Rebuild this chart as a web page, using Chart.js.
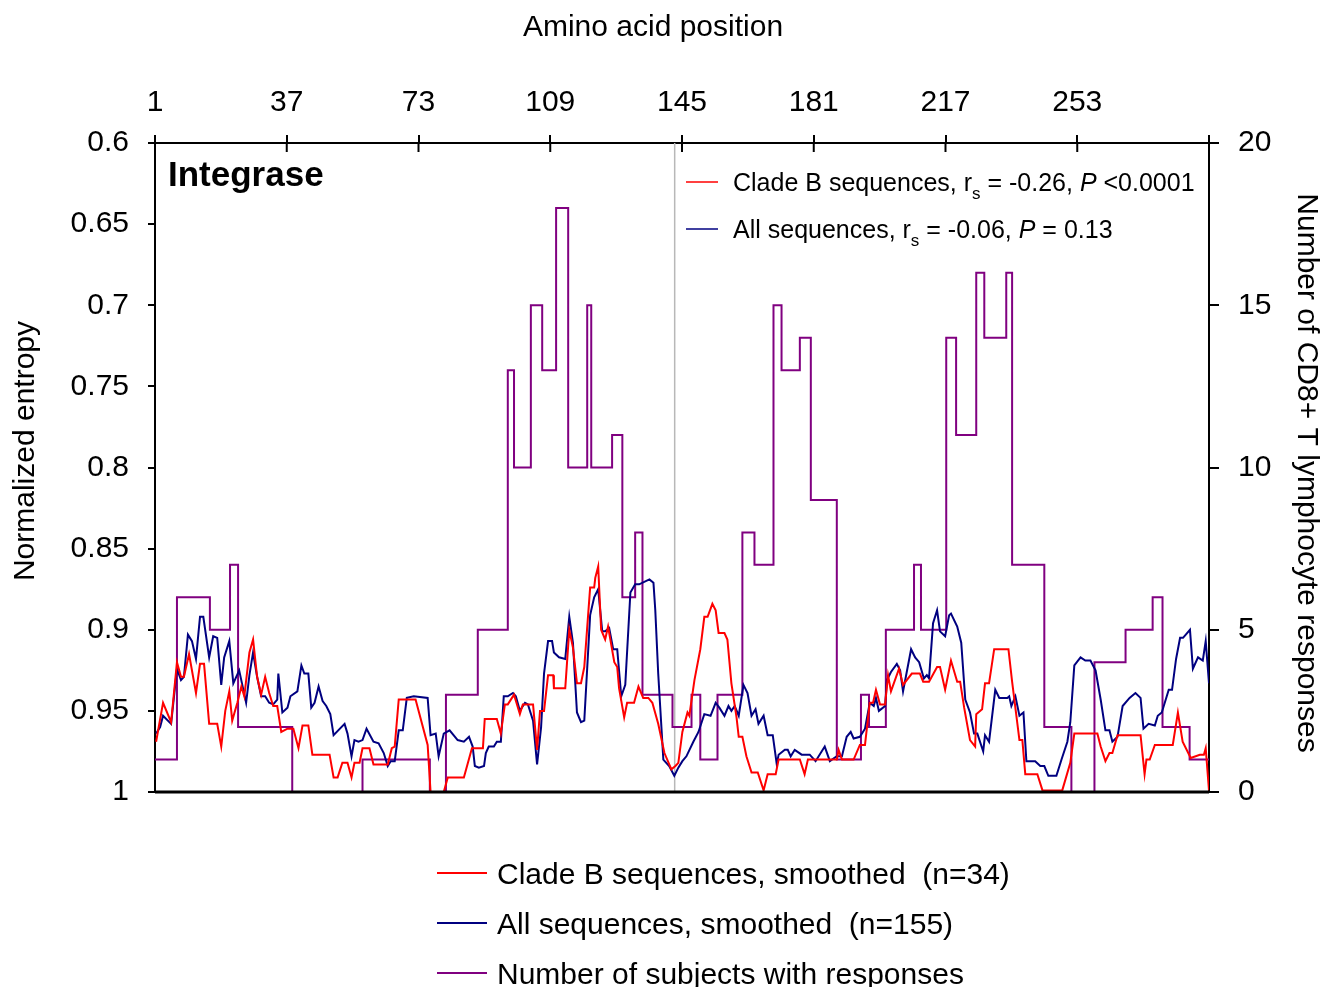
<!DOCTYPE html>
<html>
<head>
<meta charset="utf-8">
<title>Integrase – entropy and CD8+ T lymphocyte responses</title>
<script src="https://cdn.jsdelivr.net/npm/chart.js@4/dist/chart.umd.min.js"></script>
<style>
  html, body { margin: 0; padding: 0; background: #fff; }
  canvas { display: block; }
</style>
</head>
<body>
<canvas id="entropyChart" width="1320" height="987"></canvas>
<script>
const FONT = '"Liberation Sans", Arial, sans-serif';

// axis ticks
const positionTicks = [1, 37, 73, 109, 145, 181, 217, 253, 289];
const entropyTicks = [0.6, 0.65, 0.7, 0.75, 0.8, 0.85, 0.9, 0.95, 1];
const responseTicks = [0, 5, 10, 15, 20];
const dividerPosition = 143;

// smoothed normalized entropy, [amino acid position, entropy]
const cladeBSmoothed = [
  [1.3, .969], [3.2, .945], [5.4, .957], [7.0, .920], [8.1, .929], [8.9, .929], [10.3, .915], [12.2, .939],
  [13.3, .921], [14.4, .921], [15.8, .958], [18.0, .958], [19.1, .972], [20.2, .950], [21.3, .938], [22.1, .956],
  [23.5, .945], [24.6, .935], [25.4, .941], [26.8, .914], [27.8, .906], [28.9, .929], [30.0, .940], [31.1, .929],
  [32.2, .939], [33.3, .947], [34.4, .947], [35.5, .963], [37.2, .961], [38.8, .961], [40.2, .973], [41.3, .959],
  [42.9, .959], [44.0, .977], [48.7, .977], [49.8, .991], [50.9, .991], [52.2, .982], [53.6, .982], [54.7, .991],
  [55.5, .982], [56.9, .982], [57.7, .973], [59.6, .973], [60.7, .983], [64.6, .983], [65.7, .973], [66.5, .972],
  [67.6, .943], [72.2, .943], [75.5, .971], [76.3, 1.0], [79.9, 1.0], [81.0, .991], [85.4, .991], [87.6, .973],
  [90.6, .973], [91.1, .955], [94.4, .955], [95.5, .964], [96.6, .946], [97.4, .946], [99.1, .940], [100.7, .952],
  [101.5, .946], [104.3, .946], [105.4, .974], [106.2, .950], [107.3, .950], [108.4, .928], [109.8, .928], [110.0, .936],
  [113.1, .936], [114.2, .900], [115.2, .911], [116.3, .933], [117.4, .933], [118.3, .923], [119.9, .874], [121.0, .874],
  [121.3, .868], [122.1, .861], [122.9, .900], [124.0, .906], [124.8, .898], [126.5, .920], [127.3, .923], [127.8, .936],
  [129.2, .954], [130.0, .945], [131.9, .945], [133.1, .935], [134.4, .942], [135.8, .942], [136.9, .945], [138.5, .958],
  [140.2, .976], [142.1, .986], [143.2, .984], [144.0, .982], [145.1, .963], [146.5, .951], [147.0, .953], [148.4, .931],
  [150.0, .912], [151.1, .892], [152.0, .892], [153.3, .884], [154.2, .888], [155.0, .902], [156.6, .902], [157.4, .906],
  [158.5, .933], [159.9, .954], [160.5, .966], [161.5, .966], [162.6, .978], [164.0, .988], [165.7, .988], [167.3, .999],
  [168.4, .989], [170.6, .989], [171.4, .980], [177.2, .980], [178.5, .989], [179.4, .980], [187.3, .980], [187.8, .974],
  [188.7, .980], [191.9, .980], [193.6, .971], [195.0, .971], [196.3, .945], [197.2, .945], [198.0, .937], [199.1, .946],
  [200.5, .946], [201.3, .928], [202.1, .938], [204.3, .924], [205.4, .934], [207.8, .927], [210.0, .927], [210.9, .932],
  [212.5, .932], [214.7, .923], [215.5, .923], [216.9, .937], [218.5, .919], [220.2, .932], [221.0, .932], [222.1, .948],
  [223.7, .968], [225.1, .972], [225.4, .952], [227.0, .949], [227.8, .933], [228.9, .933], [230.3, .912], [234.2, .912],
  [235.2, .932], [237.2, .968], [238.0, .968], [238.8, .989], [242.1, .989], [243.5, .999], [248.9, .999], [251.1, .982],
  [252.2, .964], [258.5, .964], [259.4, .972], [260.7, .981], [261.8, .976], [262.6, .976], [264.0, .965], [270.3, .965],
  [271.4, .989], [271.9, .980], [272.8, .980], [274.2, .971], [279.1, .971], [280.5, .951], [281.8, .969], [284.0, .979],
  [286.5, .977], [287.6, .977], [288.1, .973], [289.0, .999]
];

const allSmoothed = [
  [1.3, .964], [2.4, .960], [3.2, .953], [5.4, .958], [7.0, .924], [8.1, .931], [8.9, .929], [10.0, .903],
  [11.1, .907], [12.2, .918], [13.3, .892], [14.2, .892], [15.8, .917], [16.9, .904], [18.0, .905], [19.1, .934],
  [19.9, .917], [21.3, .907], [22.4, .933], [24.0, .925], [25.9, .945], [26.8, .928], [27.8, .914], [28.9, .929],
  [30.0, .941], [31.1, .941], [32.2, .945], [33.3, .946], [34.4, .943], [34.7, .927], [35.8, .951], [37.2, .948],
  [38.0, .941], [39.9, .938], [41.0, .922], [41.8, .927], [42.9, .927], [43.7, .948], [44.6, .945], [45.7, .935],
  [46.8, .944], [47.8, .947], [48.9, .952], [49.8, .965], [52.8, .958], [53.6, .964], [54.7, .978], [55.5, .968],
  [56.6, .969], [57.7, .968], [58.8, .961], [60.7, .969], [62.1, .970], [63.5, .976], [64.6, .984], [65.4, .981],
  [66.5, .981], [67.6, .962], [68.7, .962], [69.8, .942], [71.7, .941], [75.5, .942], [76.3, .965], [77.7, .964],
  [78.5, .978], [79.9, .964], [81.5, .962], [83.7, .968], [85.4, .969], [86.8, .966], [87.8, .972], [88.4, .984],
  [89.5, .985], [90.9, .984], [91.4, .976], [92.2, .972], [93.6, .972], [94.4, .969], [95.5, .969], [96.3, .941],
  [97.4, .941], [98.8, .939], [99.6, .941], [100.7, .950], [102.1, .945], [102.9, .946], [104.3, .956], [105.4, .983],
  [106.5, .960], [107.3, .927], [108.4, .907], [109.5, .907], [110.0, .914], [111.4, .917], [113.1, .918], [114.2, .892],
  [115.2, .908], [116.3, .951], [117.4, .957], [118.3, .956], [119.9, .891], [121.0, .880], [122.1, .875], [123.2, .901],
  [124.0, .901], [125.1, .899], [126.2, .912], [127.3, .912], [128.4, .941], [129.5, .934], [130.9, .877], [132.2, .872],
  [133.3, .872], [136.1, .869], [137.2, .871], [137.7, .888], [138.5, .927], [139.9, .980], [141.5, .984], [142.9, .990],
  [144.0, .985], [145.1, .981], [146.2, .978], [148.1, .969], [149.5, .963], [151.1, .952], [152.8, .953], [154.2, .945],
  [155.2, .948], [156.6, .953], [157.7, .947], [158.5, .950], [159.4, .947], [160.5, .953], [161.8, .934], [162.9, .939],
  [164.0, .953], [165.1, .949], [165.9, .958], [167.3, .953], [168.4, .965], [169.8, .965], [170.9, .983], [171.4, .977],
  [173.1, .974], [173.9, .974], [174.7, .978], [175.8, .974], [177.7, .977], [179.9, .977], [181.5, .981], [184.0, .972],
  [185.4, .981], [187.3, .978], [188.7, .978], [190.0, .966], [191.1, .963], [191.9, .967], [193.6, .966], [195.0, .961],
  [196.3, .945], [197.4, .947], [198.0, .942], [198.8, .950], [200.5, .947], [201.0, .931], [202.1, .926], [203.7, .921],
  [204.6, .925], [205.4, .938], [207.6, .912], [208.7, .917], [209.8, .920], [211.1, .930], [211.9, .928], [212.5, .930],
  [213.6, .896], [214.7, .888], [215.5, .901], [216.9, .904], [218.0, .891], [218.5, .890], [220.2, .898], [221.3, .908],
  [222.4, .943], [223.7, .951], [224.8, .964], [225.7, .964], [227.3, .975], [227.8, .965], [228.9, .969], [230.6, .937],
  [231.7, .942], [233.9, .942], [234.4, .941], [235.0, .947], [236.1, .941], [237.2, .953], [238.3, .951], [239.1, .981],
  [241.5, .981], [242.9, .984], [244.0, .984], [245.1, .990], [247.3, .990], [248.7, .980], [250.3, .969], [251.1, .957],
  [252.2, .922], [253.9, .917], [255.2, .919], [256.6, .919], [258.0, .925], [259.4, .943], [260.7, .962], [261.8, .962],
  [262.6, .969], [264.0, .966], [265.4, .947], [267.3, .942], [268.9, .939], [270.3, .942], [271.1, .961], [272.5, .958],
  [274.2, .959], [275.0, .953], [276.1, .951], [278.0, .937], [278.9, .937], [280.0, .918], [281.1, .905], [281.9, .905],
  [283.8, .900], [284.6, .924], [286.0, .917], [287.3, .919], [288.1, .907], [289.0, .933]
];

// number of subjects with responses, [position where the level starts, count]
const responseSteps = [
  [1, 1], [7, 6], [16, 5], [21.5, 7], [23.7, 2], [38.5, 0], [57.7, 1], [76.1, 0], [80.5, 3], [89.2, 5],
  [97.4, 13], [99.1, 10], [103.7, 15], [106.8, 13], [110.6, 18], [113.9, 10], [119.1, 15], [120.2, 10],
  [125.9, 11], [128.7, 6], [132.2, 8], [134.2, 3], [142.4, 2], [147.6, 3], [150.0, 1], [154.7, 3],
  [161.5, 8], [164.8, 7], [170.0, 15], [172.2, 13], [177.2, 14], [180.2, 9], [187.3, 1], [193.9, 3],
  [196.1, 2], [200.7, 5], [208.4, 7], [210.3, 5], [217.2, 14], [219.9, 11], [225.4, 16], [227.6, 14],
  [233.6, 16], [235.2, 7], [244.0, 2], [251.4, 0], [257.7, 4], [266.2, 5], [273.6, 6], [276.3, 2],
  [283.7, 1], [289, 1]
];

const seriesLabels = [
  "Clade B sequences, smoothed  (n=34)",
  "All sequences, smoothed  (n=155)",
  "Number of subjects with responses"
];
const seriesColors = ["#ff0000", "#000080", "#800080"];

// correlation legend inside the plot
const statNames = ["Clade B sequences", "All sequences"];
const statR = ["-0.26", "-0.06"];
const statP = ["<0.0001", "= 0.13"];

const toPoints = (pairs) => pairs.map(([x, y]) => ({ x, y }));

const overlay = {
  id: "overlay",
  beforeDatasetsDraw(chart) {
    const { ctx, chartArea, scales } = chart;
    const x = scales.x.getPixelForValue(dividerPosition);
    ctx.save();
    ctx.strokeStyle = "#b8b8b8";
    ctx.lineWidth = 1.5;
    ctx.beginPath();
    ctx.moveTo(x, chartArea.top);
    ctx.lineTo(x, chartArea.bottom);
    ctx.stroke();
    ctx.restore();
  },
  afterDraw(chart) {
    const { ctx, chartArea, scales } = chart;
    ctx.save();
    ctx.strokeStyle = "#000";

    // bottom frame line
    ctx.lineWidth = 3;
    ctx.beginPath();
    ctx.moveTo(chartArea.left, chartArea.bottom);
    ctx.lineTo(chartArea.right, chartArea.bottom);
    ctx.stroke();

    // top ticks cross the axis line
    ctx.lineWidth = 2;
    positionTicks.forEach((v) => {
      const px = scales.x.getPixelForValue(v);
      ctx.beginPath();
      ctx.moveTo(px, chartArea.top);
      ctx.lineTo(px, chartArea.top + 9);
      ctx.stroke();
    });

    ctx.fillStyle = "#000";

    // axis titles
    ctx.font = "30px " + FONT;
    ctx.textAlign = "center";
    ctx.textBaseline = "alphabetic";
    ctx.fillText("Amino acid position", 653, 36);

    ctx.save();
    ctx.translate(34, 451);
    ctx.rotate(-Math.PI / 2);
    ctx.fillText("Normalized entropy", 0, 0);
    ctx.restore();

    ctx.save();
    ctx.translate(1298, 473);
    ctx.rotate(Math.PI / 2);
    ctx.fillText("Number of CD8+ T lymphocyte responses", 0, 0);
    ctx.restore();

    // panel label
    ctx.textAlign = "left";
    ctx.font = "bold 35px " + FONT;
    ctx.fillText("Integrase", 168, 186);

    // correlation legend
    statNames.forEach((name, i) => {
      const y = 191 + i * 47;
      ctx.strokeStyle = seriesColors[i];
      ctx.lineWidth = 1.5;
      ctx.beginPath();
      ctx.moveTo(686, y - 9);
      ctx.lineTo(718, y - 9);
      ctx.stroke();

      let x = 733;
      const put = (text, font, dy) => {
        ctx.font = font;
        ctx.fillText(text, x, y + dy);
        x += ctx.measureText(text).width;
      };
      put(name + ", r", "25px " + FONT, 0);
      put("s", "17px " + FONT, 8);
      put(" = " + statR[i] + ", ", "25px " + FONT, 0);
      put("P", "italic 25px " + FONT, 0);
      put(" " + statP[i], "25px " + FONT, 0);
    });

    // series legend below the plot
    ctx.font = "30px " + FONT;
    chart.data.datasets.forEach((ds, i) => {
      const y = 884 + i * 50;
      ctx.strokeStyle = ds.borderColor;
      ctx.lineWidth = 2;
      ctx.beginPath();
      ctx.moveTo(437, y - 11);
      ctx.lineTo(487, y - 11);
      ctx.stroke();
      ctx.fillText(ds.label, 497, y);
    });

    ctx.restore();
  }
};

const ctx1 = document.getElementById("entropyChart").getContext("2d");
new Chart(ctx1, {
  type: "line",
  data: {
    datasets: [
      {
        label: seriesLabels[0],
        data: toPoints(cladeBSmoothed),
        borderColor: seriesColors[0],
        yAxisID: "y",
      },
      {
        label: seriesLabels[1],
        data: toPoints(allSmoothed),
        borderColor: seriesColors[1],
        yAxisID: "y",
      },
      {
        label: seriesLabels[2],
        data: toPoints(responseSteps),
        borderColor: seriesColors[2],
        yAxisID: "y1",
        stepped: true,
      },
    ],
  },
  options: {
    responsive: false,
    devicePixelRatio: 1,
    animation: false,
    layout: { padding: { top: 0, left: 0, right: 0, bottom: 195 } },
    elements: {
      point: { radius: 0 },
      line: { borderWidth: 2, tension: 0, fill: false },
    },
    plugins: {
      legend: { display: false },
      tooltip: { enabled: false },
    },
    scales: {
      x: {
        type: "linear",
        position: "top",
        min: 1,
        max: 289,
        afterBuildTicks: (scale) => {
          scale.ticks = positionTicks.map((value) => ({ value }));
        },
        afterFit: (scale) => {
          scale.height = 143;
        },
        ticks: {
          autoSkip: false,
          maxRotation: 0,
          padding: 14,
          color: "#000",
          font: { family: FONT, size: 30 },
          callback: (v) => (v === 289 ? "" : v),
        },
        grid: { drawOnChartArea: false, color: "#000", lineWidth: 2, tickLength: 8 },
        border: { color: "#000", width: 2 },
      },
      y: {
        type: "linear",
        position: "left",
        reverse: true,
        min: 0.6,
        max: 1,
        afterBuildTicks: (scale) => {
          scale.ticks = entropyTicks.map((value) => ({ value }));
        },
        afterFit: (scale) => {
          scale.width = 155;
        },
        ticks: {
          padding: 19,
          color: "#000",
          font: { family: FONT, size: 30 },
          callback: (v) => String(+v.toFixed(2)),
        },
        grid: { drawOnChartArea: false, color: "#000", lineWidth: 2, tickLength: 7 },
        border: { color: "#000", width: 2 },
      },
      y1: {
        type: "linear",
        position: "right",
        min: 0,
        max: 20,
        afterBuildTicks: (scale) => {
          scale.ticks = responseTicks.map((value) => ({ value }));
        },
        afterFit: (scale) => {
          scale.width = 111;
        },
        ticks: {
          padding: 19,
          color: "#000",
          font: { family: FONT, size: 30 },
        },
        grid: { drawOnChartArea: false, color: "#000", lineWidth: 2, tickLength: 10 },
        border: { color: "#000", width: 2 },
      },
    },
  },
  plugins: [overlay],
});
</script>
</body>
</html>
